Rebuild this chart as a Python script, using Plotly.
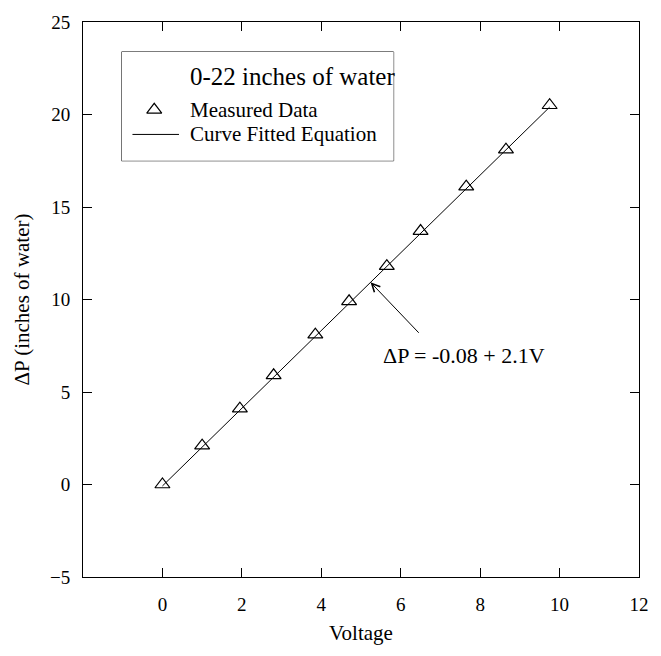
import plotly.graph_objects as go

# ---- data ----
voltage = [0.0, 1.0, 1.95, 2.8, 3.85, 4.7, 5.65, 6.5, 7.65, 8.65, 9.75]
delta_p = [0.0, 2.1, 4.1, 5.9, 8.1, 9.9, 11.8, 13.7, 16.1, 18.1, 20.5]
fit_x = [0.0, 9.75]
fit_y = [-0.08, 20.4]
x_ticks = [0, 2, 4, 6, 8, 10, 12]
y_ticks = [-5, 0, 5, 10, 15, 20, 25]
legend_title = "0-22 inches of water"
legend_labels = ["Measured Data", "Curve Fitted Equation"]
equation_text = "ΔP = -0.08 + 2.1V"

FONT = "Liberation Serif, Times New Roman, serif"
fig = go.Figure()

fig.add_trace(go.Scatter(x=fit_x, y=fit_y, mode="lines",
                         line=dict(color="black", width=1), showlegend=False))
fig.add_trace(go.Scatter(x=voltage, y=delta_p, mode="markers",
                         marker=dict(symbol="triangle-up-open", size=13,
                                     color="black", line=dict(width=1.2, color="black")),
                         showlegend=False))

# manual legend samples on a helper axis pair
row_y = [0.468, 0.242]
fig.add_trace(go.Scatter(x=[0.12], y=[row_y[0]], mode="markers", xaxis="x2", yaxis="y2",
                         marker=dict(symbol="triangle-up-open", size=13, color="black",
                                     line=dict(width=1.2, color="black")),
                         showlegend=False, hoverinfo="skip"))
fig.add_trace(go.Scatter(x=[0.04, 0.211], y=[row_y[1], row_y[1]], mode="lines", xaxis="x2", yaxis="y2",
                         line=dict(color="black", width=1), showlegend=False, hoverinfo="skip"))

axis_common = dict(showline=True, linecolor="black", linewidth=1, mirror="ticks",
                   ticks="inside", ticklen=9, tickcolor="black", tickwidth=1,
                   showgrid=False, zeroline=False,
                   tickfont=dict(family=FONT, size=19, color="black"))

fig.update_layout(
    width=661, height=656,
    margin=dict(l=83, r=16, t=17, b=79),
    paper_bgcolor="white", plot_bgcolor="white",
    font=dict(family=FONT, color="black"),
    xaxis=dict(range=[-2, 12], tickvals=x_ticks, ticklabelstandoff=10,
               title=dict(text="Voltage", font=dict(family=FONT, size=21), standoff=11),
               **axis_common),
    yaxis=dict(range=[-5, 25], tickvals=y_ticks, ticklabelstandoff=8,
               title=dict(text="ΔP (inches of water)", font=dict(family=FONT, size=21), standoff=14),
               **axis_common),
    xaxis2=dict(domain=[0.0694, 0.5587], range=[0, 1], visible=False, anchor="y2"),
    yaxis2=dict(domain=[0.75, 0.946], range=[0, 1], visible=False, anchor="x2"),
    showlegend=False,
)

fig.add_shape(type="rect", xref="x2 domain", yref="y2 domain", x0=0, x1=1, y0=0, y1=1,
              line=dict(color="black", width=1), fillcolor="white", layer="below")

fig.add_annotation(xref="x2", yref="y2", x=0.247, y=0.775, text=legend_title, showarrow=False,
                   xanchor="left", yanchor="middle", font=dict(family=FONT, size=25), borderpad=0)
fig.add_annotation(xref="x2", yref="y2", x=0.247, y=row_y[0], text=legend_labels[0], showarrow=False,
                   xanchor="left", yanchor="middle", font=dict(family=FONT, size=21), borderpad=0)
fig.add_annotation(xref="x2", yref="y2", x=0.247, y=row_y[1], text=legend_labels[1], showarrow=False,
                   xanchor="left", yanchor="middle", font=dict(family=FONT, size=21), borderpad=0)

# equation label with arrow to the fitted line
fig.add_annotation(x=5.24, y=10.93, ax=6.49, ay=8.12, axref="x", ayref="y",
                   text="", showarrow=True, arrowhead=5, arrowsize=1.6, arrowwidth=1,
                   arrowcolor="black", standoff=0)
fig.add_annotation(x=7.6, y=6.98, text=equation_text, showarrow=False,
                   xanchor="center", yanchor="middle", font=dict(family=FONT, size=22))

fig.write_html("out.html")
